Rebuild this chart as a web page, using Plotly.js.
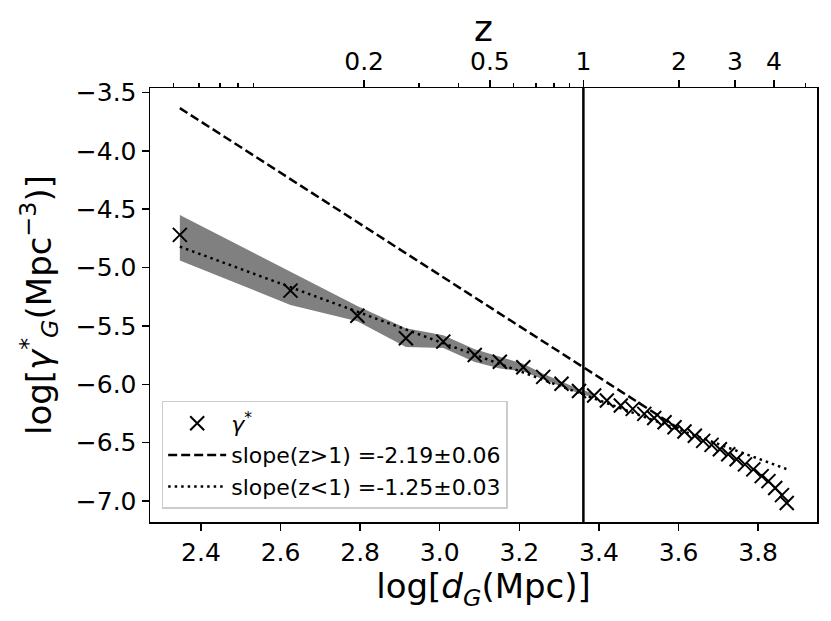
<!DOCTYPE html>
<html>
<head>
<meta charset="utf-8">
<script src="https://cdn.plot.ly/plotly-3.0.1.min.js"></script>
<style>
  html, body { margin: 0; padding: 0; background: #ffffff; }
  #chart { width: 831px; height: 621px; }
</style>
</head>
<body>
<div id="chart"></div>
<script>
// ---- data ----
const logD = [2.347, 2.625, 2.793, 2.915, 3.009, 3.088, 3.151, 3.210, 3.260, 3.306, 3.350, 3.388,
              3.420, 3.455, 3.485, 3.514, 3.539, 3.565, 3.590, 3.615, 3.641, 3.662, 3.683, 3.704,
              3.725, 3.746, 3.767, 3.788, 3.809, 3.826, 3.843, 3.860, 3.872];
const logGamma = [-4.720, -5.198, -5.413, -5.606, -5.635, -5.750, -5.807, -5.855, -5.937, -5.995, -6.058, -6.096,
                  -6.139, -6.182, -6.211, -6.254, -6.289, -6.326, -6.369, -6.404, -6.441, -6.485, -6.519, -6.557,
                  -6.600, -6.642, -6.686, -6.729, -6.787, -6.830, -6.888, -6.950, -7.017];

const bandX  = [2.347, 2.625, 2.793, 2.915, 3.009, 3.088, 3.151, 3.210, 3.260, 3.306, 3.350, 3.388];
const bandUp = [-4.55, -5.04, -5.33, -5.52, -5.58, -5.70, -5.765, -5.825, -5.91, -5.975, -6.04, -6.08];
const bandLo = [-4.94, -5.32, -5.46, -5.68, -5.69, -5.81, -5.865, -5.89, -5.96, -6.02, -6.08, -6.115];

const fitHighX = [2.347, 3.600];   // slope(z>1) line end points
const fitHighY = [-3.634, -6.378];
const fitLowX  = [2.347, 3.872];   // slope(z<1) line end points
const fitLowY  = [-4.821, -6.727];

const zOneLogD = 3.361;            // position of z = 1

const xTickVals = [2.4, 2.6, 2.8, 3.0, 3.2, 3.4, 3.6, 3.8];
const xTickText = ['2.4', '2.6', '2.8', '3.0', '3.2', '3.4', '3.6', '3.8'];
const yTickVals = [-3.5, -4.0, -4.5, -5.0, -5.5, -6.0, -6.5, -7.0];
const yTickText = ['\u22123.5', '\u22124.0', '\u22124.5', '\u22125.0', '\u22125.5', '\u22126.0', '\u22126.5', '\u22127.0'];
const zTickPos   = [2.810, 3.126, 3.361, 3.601, 3.742, 3.840];
const zTickText  = ['0.2', '0.5', '1', '2', '3', '4'];
const zMinorPos  = [2.332, 2.395, 2.448, 2.493, 2.533, 2.948, 3.048, 3.186, 3.242, 3.287, 3.327, 3.919];

const xRange = [2.272, 3.948];
const yRange = [-7.18, -3.462];

const FONT = 'DejaVu Sans, Verdana, sans-serif';

// ---- traces ----
const band = {
  x: bandX.concat(bandX.slice().reverse()),
  y: bandUp.concat(bandLo.slice().reverse()),
  type: 'scatter', mode: 'lines', fill: 'toself',
  fillcolor: '#808080', line: {width: 0, color: '#808080'},
  showlegend: false, hoverinfo: 'skip'
};
const pts = {
  x: logD, y: logGamma, type: 'scatter', mode: 'markers',
  name: '<i>γ</i><sup>*</sup>',
  marker: {symbol: 'x-thin', size: 14, color: '#000', line: {width: 2, color: '#000'}}
};
const fitHigh = {
  x: fitHighX, y: fitHighY, type: 'scatter', mode: 'lines',
  name: 'slope(z>1) =-2.19±0.06',
  line: {color: '#000', width: 2.5, dash: '9px,4px'}
};
const fitLow = {
  x: fitLowX, y: fitLowY, type: 'scatter', mode: 'lines',
  name: 'slope(z<1) =-1.25±0.03',
  line: {color: '#000', width: 2.5, dash: '2.5px,4px'}
};
const zLine = {
  x: [zOneLogD, zOneLogD], y: yRange, xaxis: 'x2', yaxis: 'y',
  type: 'scatter', mode: 'lines', line: {color: '#000', width: 2.5},
  showlegend: false, hoverinfo: 'skip'
};

const layout = {
  width: 831, height: 621,
  margin: {l: 150, r: 14, t: 88, b: 99},
  paper_bgcolor: '#fff', plot_bgcolor: '#fff',
  font: {family: FONT, color: '#000', size: 22},
  showlegend: true,
  legend: {
    x: 0.0175, y: 0.03, xanchor: 'left', yanchor: 'bottom',
    bgcolor: 'rgba(255,255,255,0.85)', bordercolor: '#cccccc', borderwidth: 1.5,
    font: {family: FONT, size: 22, color: '#000'},
    traceorder: 'normal', itemwidth: 58
  },
  xaxis: {
    range: xRange, tickmode: 'array', tickvals: xTickVals, ticktext: xTickText,
    ticks: 'outside', ticklen: 7, tickwidth: 1.5, tickcolor: '#000',
    showline: true, linewidth: 1.5, linecolor: '#000', mirror: false,
    showgrid: false, zeroline: false,
    tickfont: {family: FONT, size: 25, color: '#000'},
    title: {text: 'log[<i>d</i><sub><i>G</i></sub>(Mpc)]', font: {family: FONT, size: 34, color: '#000'}, standoff: 4}
  },
  xaxis2: {
    range: xRange, overlaying: 'x', side: 'top', anchor: 'y',
    tickmode: 'array', tickvals: zTickPos, ticktext: zTickText,
    ticks: 'outside', ticklen: 7, tickwidth: 1.5, tickcolor: '#000',
    minor: {tickmode: 'array', tickvals: zMinorPos, ticks: 'outside', ticklen: 4, tickwidth: 1.2, tickcolor: '#000', showgrid: false},
    showline: true, linewidth: 1.5, linecolor: '#000',
    showgrid: false, zeroline: false,
    tickfont: {family: FONT, size: 25, color: '#000'}
  },
  yaxis: {
    range: yRange, tickmode: 'array', tickvals: yTickVals, ticktext: yTickText,
    ticks: 'outside', ticklen: 7, tickwidth: 1.5, tickcolor: '#000',
    showline: true, linewidth: 1.5, linecolor: '#000', mirror: true,
    showgrid: false, zeroline: false,
    tickfont: {family: FONT, size: 25, color: '#000'},
    title: {text: 'log[<i>γ</i><sup>*</sup><sub><i>G</i></sub>(Mpc<sup>−3</sup>)]', font: {family: FONT, size: 34, color: '#000'}, standoff: 14}
  },
  annotations: [{
    text: 'z', xref: 'paper', yref: 'paper', x: 0.5, y: 1,
    xanchor: 'center', yanchor: 'bottom', yshift: 37, showarrow: false,
    font: {family: FONT, size: 36, color: '#000'}
  }]
};

Plotly.newPlot('chart', [band, zLine, pts, fitHigh, fitLow], layout, {displayModeBar: false, staticPlot: true});
</script>
</body>
</html>
